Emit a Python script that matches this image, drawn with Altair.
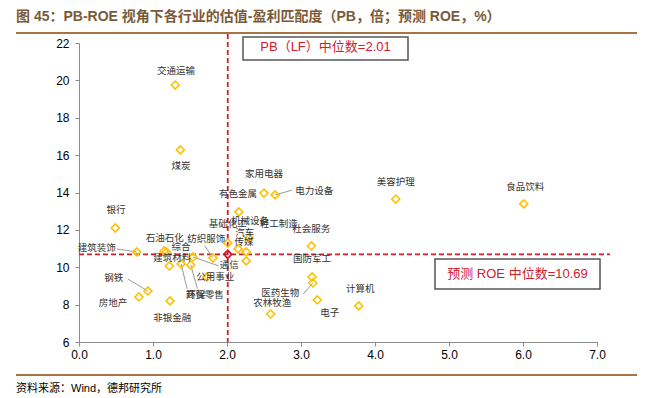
import altair as alt
import pandas as pd

# ---------------- data ----------------
industries = ["交通运输", "煤炭", "家用电器", "电力设备", "有色金属", "美容护理", "食品饮料",
              "银行", "汽车", "基础化工", "机械设备", "传媒", "轻工制造", "社会服务",
              "建筑装饰", "石油石化", "综合", "建筑材料", "环保", "商贸零售", "通信",
              "纺织服饰", "公用事业", "国防军工", "医药生物", "钢铁", "房地产", "非银金融",
              "电子", "计算机", "农林牧渔"]
pb = [1.30, 1.37, 2.50, 2.65, 2.16, 4.28, 6.01,
      0.49, 2.30, 2.01, 2.15, 2.26, 2.26, 3.14,
      0.78, 1.15, 1.18, 1.22, 1.38, 1.51, 1.54,
      1.81, 1.73, 3.15, 3.16, 0.93, 0.81, 1.23,
      3.22, 3.78, 2.59]
roe = [19.75, 16.28, 13.97, 13.87, 12.96, 13.65, 13.39,
       12.10, 11.57, 11.30, 10.98, 10.82, 10.34, 11.14,
       10.82, 10.87, 10.82, 10.07, 10.18, 10.12, 10.55,
       10.50, 9.48, 9.48, 9.16, 8.73, 8.41, 8.20,
       8.25, 7.93, 7.50]

pb_median = 2.01
roe_median = 10.69

x_ticks = [0, 1, 2, 3, 4, 5, 6, 7]
y_ticks = [6, 8, 10, 12, 14, 16, 18, 20, 22]

title_text = "图 45：PB-ROE 视角下各行业的估值-盈利匹配度（PB，倍；预测 ROE，%）"
source_text = "资料来源：Wind，德邦研究所"
pb_box_text = "PB（LF）中位数=2.01"
roe_box_text = "预测 ROE 中位数=10.69"

# label anchor positions (in data units) – layout only
label_x = [1.31, 1.38, 2.50, 3.18, 2.15, 4.28, 6.03,
           0.50, 2.24, 2.01, 2.31, 2.23, 2.70, 3.14,
           0.24, 1.16, 1.38, 1.26, 1.58, 1.70, 2.03,
           1.72, 1.84, 3.15, 2.72, 0.47, 0.46, 1.26,
           3.39, 3.80, 2.61]
label_y = [20.50, 15.42, 14.99, 14.08, 13.92, 14.56, 14.30,
           13.06, 11.83, 12.32, 12.48, 11.35, 12.32, 12.05,
           11.03, 11.57, 11.09, 10.50, 8.52, 8.52, 10.12,
           11.51, 9.48, 10.44, 8.62, 9.43, 8.09, 7.29,
           7.55, 8.84, 8.09]

# leader lines: industry -> end point near its label (data units) – layout only
leader_names = ["建筑装饰", "钢铁", "纺织服饰", "电力设备", "医药生物", "通信", "环保", "商贸零售"]
leader_x2 = [0.51, 0.66, 1.70, 2.88, 3.03, 1.89, 1.46, 1.60]
leader_y2 = [10.98, 9.37, 11.14, 14.13, 8.57, 10.07, 8.85, 8.85]

# ---------------- build ----------------
W, H = 518, 299
LEFT, TOP = 71, 35

df = pd.DataFrame({"industry": industries, "pb": pb, "roe": roe,
                   "lx": label_x, "ly": label_y})
idx = {n: i for i, n in enumerate(industries)}
ld = pd.DataFrame({"industry": leader_names,
                   "pb": [pb[idx[n]] for n in leader_names],
                   "roe": [roe[idx[n]] for n in leader_names],
                   "x2": leader_x2, "y2": leader_y2})
med = pd.DataFrame({"pb": [pb_median], "roe": [roe_median]})

xs = alt.Scale(domain=[0, 7], nice=False, zero=False)
ys = alt.Scale(domain=[6, 22], nice=False, zero=False)

FONT = "Liberation Sans, Arial, Noto Sans CJK SC"
CJK = "Noto Sans CJK SC"
RED = "#D0202A"
BROWN = "#A67545"

AX = alt.Axis(values=x_ticks, format=".1f", title=None, grid=False,
              domainColor="#8c8c8c", tickColor="#8c8c8c", tickSize=4,
              labelFont=FONT, labelFontSize=12, labelColor="#000",
              labelPadding=3, labelFlush=False, labelOverlap=False)
AY = alt.Axis(values=y_ticks, title=None, grid=False,
              domainColor="#8c8c8c", tickColor="#8c8c8c", tickSize=4,
              labelFont=FONT, labelFontSize=12, labelColor="#000",
              labelPadding=6, labelFlush=False, labelOverlap=False)


def X(field):
    return alt.X(field, scale=xs, axis=AX)


def Y(field):
    return alt.Y(field, scale=ys, axis=AY)


base = alt.Chart(df)

points = base.mark_point(shape="diamond", filled=False, color="#FFC000",
                         strokeWidth=1.6, size=64, opacity=1).encode(
    x=X("pb:Q"), y=Y("roe:Q"))

labels = base.mark_text(font=CJK, fontSize=9.5, color="#333333",
                        align="center", baseline="middle").encode(
    x=X("lx:Q"), y=Y("ly:Q"), text="industry:N")

leaders = alt.Chart(ld).mark_rule(color="#9a9a9a", strokeWidth=1).encode(
    x=X("pb:Q"), y=Y("roe:Q"), x2="x2:Q", y2="y2:Q")

vline = alt.Chart(med).mark_rule(color=RED, strokeWidth=1.8, strokeDash=[5, 3]).encode(
    x=X("pb:Q"), y=alt.value(-9), y2=alt.value(H))
hline = alt.Chart(med).mark_rule(color=RED, strokeWidth=1.8, strokeDash=[5, 3]).encode(
    y=Y("roe:Q"), x=alt.value(0), x2=alt.value(W + 13))
med_pt = alt.Chart(med).mark_point(shape="diamond", filled=False, color=RED,
                                   strokeWidth=1.8, size=64, opacity=1).encode(
    x=X("pb:Q"), y=Y("roe:Q"))

ann = pd.DataFrame({"a": [0]})
box1 = alt.Chart(ann).mark_rect(fill="white", stroke="#555555", strokeWidth=1.5).encode(
    x=alt.value(164), x2=alt.value(329), y=alt.value(-6), y2=alt.value(17))
box1_t = alt.Chart(ann).mark_text(text=pb_box_text, font=FONT, fontSize=13, color=RED,
                                  align="center", baseline="middle").encode(
    x=alt.value(246.5), y=alt.value(4))
box2 = alt.Chart(ann).mark_rect(fill="white", stroke="#555555", strokeWidth=1.5).encode(
    x=alt.value(356), x2=alt.value(521), y=alt.value(216), y2=alt.value(246))
box2_t = alt.Chart(ann).mark_text(text=roe_box_text, font=FONT, fontSize=13, color=RED,
                                  align="center", baseline="middle").encode(
    x=alt.value(438.5), y=alt.value(231))

title = alt.Chart(ann).mark_text(text=title_text, font=FONT, fontSize=14, fontWeight="bold",
                                 color="#7A5A38", align="left", baseline="middle").encode(
    x=alt.value(-63), y=alt.value(-26.5))
top_line = alt.Chart(ann).mark_rule(color=BROWN, strokeWidth=2).encode(
    x=alt.value(-63), x2=alt.value(558), y=alt.value(-10))
bot_line = alt.Chart(ann).mark_rule(color=BROWN, strokeWidth=2).encode(
    x=alt.value(-63), x2=alt.value(558), y=alt.value(332))
source = alt.Chart(ann).mark_text(text=source_text, font=FONT, fontSize=11, color="#000",
                                  align="left", baseline="middle").encode(
    x=alt.value(-63), y=alt.value(346))

chart = alt.layer(
    vline, hline, leaders, points, med_pt, labels,
    box1, box1_t, box2, box2_t, title, top_line, bot_line, source
).properties(
    width=W, height=H,
    autosize=alt.AutoSizeParams(type="none"),
    padding={"left": LEFT, "top": TOP, "right": 46, "bottom": 54},
).configure(background="white", view=alt.ViewConfig(stroke=None))

chart.save("out.html", embed_options={"renderer": "svg", "actions": False})
